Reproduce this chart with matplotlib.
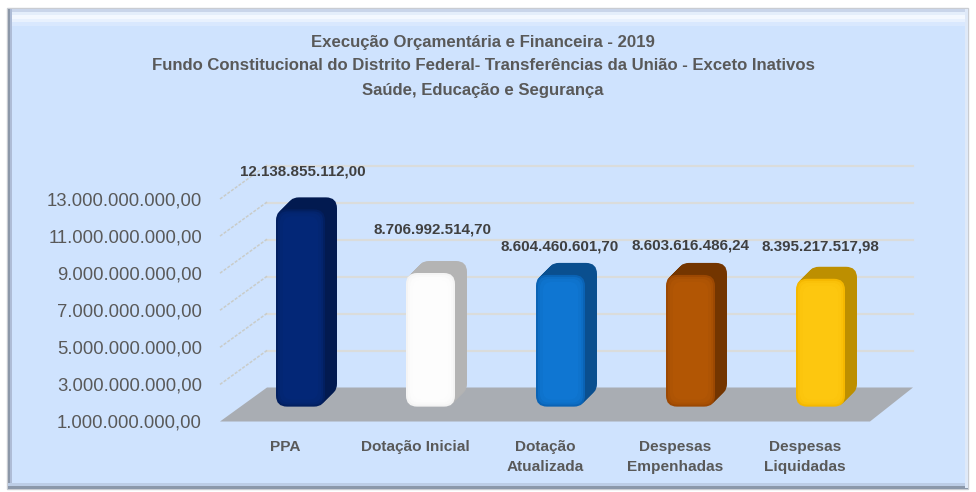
import matplotlib
matplotlib.use("Agg")
import matplotlib.pyplot as plt
from matplotlib.patches import FancyBboxPatch, Polygon, Rectangle
from matplotlib.transforms import Affine2D

categories = ["PPA", "Dotação Inicial", "Dotação\nAtualizada", "Despesas\nEmpenhadas", "Despesas\nLiquidadas"]
values = [12138855112.00, 8706992514.70, 8604460601.70, 8603616486.24, 8395217517.98]
value_labels = ["12.138.855.112,00", "8.706.992.514,70", "8.604.460.601,70", "8.603.616.486,24", "8.395.217.517,98"]
y_ticks = [1e9, 3e9, 5e9, 7e9, 9e9, 11e9, 13e9]
y_tick_labels = ["1.000.000.000,00", "3.000.000.000,00", "5.000.000.000,00", "7.000.000.000,00",
                 "9.000.000.000,00", "11.000.000.000,00", "13.000.000.000,00"]
title_lines = ["Execução Orçamentária e Financeira - 2019",
               "Fundo Constitucional do Distrito Federal- Transferências da União - Exceto Inativos",
               "Saúde, Educação e Segurança"]
front_colors = ["#021f60", "#f4f4f4", "#0a63b5", "#9c4802", "#f5b800"]
side_colors = ["#021a50", "#b4b4b4", "#0a4f8f", "#733500", "#bd8f00"]
light_colors = ["#04297a", "#ffffff", "#1079d6", "#b55805", "#ffca12"]
label_offsets = [(18, 43), (17, 48.6), (15, 34.5), (16, 35.5), (15, 38)]

plt.rcParams["font.family"] = ["Liberation Sans", "DejaVu Sans"]
TXT = "#595959"

W, H = 976, 492
fig = plt.figure(figsize=(W / 100, H / 100), dpi=100, facecolor="white")

# background panel with bevel
bg = fig.add_axes([0, 0, 1, 1], zorder=0)
bg.set_xlim(0, W); bg.set_ylim(H, 0); bg.axis("off")
bg.add_patch(Rectangle((7, 8), 961, 481, fc="#cfe3fe", ec="#c9ccd2", lw=1))
for y, c in [(9, "#c9d5ea"), (12, "#e4eefb"), (15, "#f3f8ff"), (19, "#e8f1fe"), (22, "#d9e8fe")]:
    bg.add_patch(Rectangle((9, y), 957, 4, fc=c, ec="none"))
bg.add_patch(Rectangle((8, 9), 2, 479, fc="#8c97a8", ec="none"))
bg.add_patch(Rectangle((10, 9), 2, 479, fc="#aebcd6", ec="none"))
bg.add_patch(Rectangle((8, 486), 960, 3, fc="#8b98aa", ec="none"))
bg.add_patch(Rectangle((8, 483), 960, 3, fc="#bccde6", ec="none"))
bg.add_patch(Rectangle((965, 9), 3, 479, fc="#dfe9f8", ec="none"))

for line, yp in zip(title_lines, [42, 66, 91]):
    bg.text(483, yp, line, ha="center", va="center", fontsize=12.1, fontweight="bold", color=TXT)

# plot axes: front floor edge from x=220 to 870, value 1e9 at y=421, 13e9 at y=199
L, R, B, T = 220, 870, 421.5, 199
ax = fig.add_axes([L / W, 1 - B / H, (R - L) / W, (B - T) / H], zorder=1)
ax.patch.set_alpha(0)
ax.set_xlim(-0.5, 4.5)
ax.set_ylim(y_ticks[0], y_ticks[-1])
for s in ax.spines.values():
    s.set_visible(False)
ax.tick_params(length=0)
ax.set_yticks(y_ticks, y_tick_labels, fontsize=13.3)
ax.tick_params(axis="y", pad=13, labelcolor=TXT)
ax.set_xticks(range(len(categories)), categories, fontsize=11.1, fontweight="bold", linespacing=1.55)
ax.tick_params(axis="x", pad=13, labelcolor=TXT)


def off(dx, dy):
    return ax.transData + Affine2D().translate(dx, dy)


xl, xr = ax.get_xlim()
ymin = y_ticks[0]
px_x = (xr - xl) / (R - L)
px_y = (y_ticks[-1] - y_ticks[0]) / (B - T)

# floor
ax.add_patch(Polygon([(xl, ymin), (xr, ymin), (xr + 43 * px_x, ymin + 34 * px_y), (xl + 47 * px_x, ymin + 34 * px_y)],
                     fc="#a9adb3", ec="none", zorder=1, clip_on=False))
# walls: gridlines and dashed diagonals
for t in y_ticks[1:]:
    ax.plot([xl + 47 * px_x, xr + 43 * px_x], [t, t], transform=off(0, 33.5), color="#dadcdb", lw=1.6,
            zorder=1, clip_on=False)
    ax.plot([xl, xl + 47 * px_x], [t, t + 34 * px_y], color="#c9ccc9", lw=1.1, ls=(0, (2, 1)),
            zorder=1, clip_on=False)

# bars: extruded rounded boxes
BASE = 1.5e9
w = 49 * px_x
aspect = px_y / px_x
DEPTH = 12
for i, v in enumerate(values):
    x0 = i - 9 * px_x
    for k in range(DEPTH, -1, -1):
        col = side_colors[i] if k > 0 else front_colors[i]
        ax.add_patch(FancyBboxPatch((x0, BASE), w, v - BASE,
                                    boxstyle=f"round,pad=0,rounding_size={11 * px_x}",
                                    mutation_aspect=aspect, fc=col, ec="none",
                                    transform=off(k, 5.6 + k), zorder=3 + (DEPTH - k) * 0.01, clip_on=False))
    for m, a in [(2, 0.5), (4, 0.5), (7, 0.6)]:
        ax.add_patch(FancyBboxPatch((x0 + m * px_x, BASE + m * px_y), w - 2 * m * px_x, v - BASE - 2 * m * px_y,
                                    boxstyle=f"round,pad=0,rounding_size={9 * px_x}",
                                    mutation_aspect=aspect, fc=light_colors[i], ec="none", alpha=a,
                                    transform=off(0, 5.6), zorder=3.5, clip_on=False))
    dx, dy = label_offsets[i]
    ax.annotate(value_labels[i], xy=(i, v), xytext=(dx, dy), textcoords="offset pixels",
                ha="center", va="center", fontsize=10.9, fontweight="bold", color="#404040",
                zorder=6, annotation_clip=False)

fig.savefig("out.png", dpi=100, facecolor="white")
